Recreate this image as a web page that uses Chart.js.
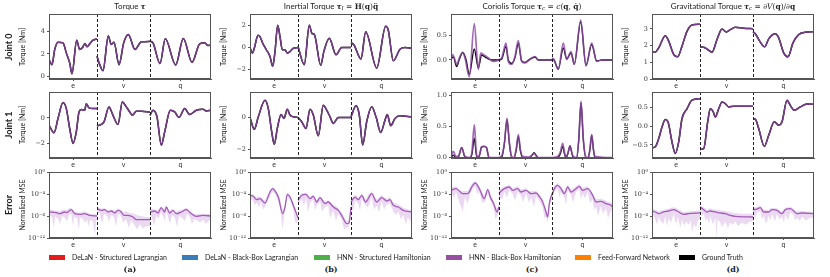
<!DOCTYPE html>
<html><head><meta charset="utf-8">
<script src="https://cdn.jsdelivr.net/npm/chart.js@4/dist/chart.umd.min.js"></script>
<style>
body{margin:0;background:#fff}
#fig{position:relative;width:830px;height:277px;overflow:hidden;background:#fff;font-family:Lato,"DejaVu Sans",sans-serif;color:#222}
.box{position:absolute}
.title{position:absolute;top:1px;font-size:8px;line-height:10px;white-space:nowrap;transform:translateX(-50%)}
.m{font-family:"DejaVu Serif","Liberation Serif",serif;font-size:7.5px}
.m sub{font-size:5.5px;vertical-align:-1px;line-height:0}
.vlab{position:absolute;white-space:nowrap;transform:translate(-50%,-50%) rotate(-90deg);font-size:7px;line-height:8px}
.rlab{position:absolute;white-space:nowrap;transform:translate(-50%,-50%) rotate(-90deg);font-size:9px;font-weight:bold;line-height:10px}
.cap{position:absolute;top:264px;transform:translateX(-50%);font-family:"DejaVu Serif",serif;font-weight:bold;font-size:8px;line-height:10px}
.lsw{position:absolute;top:255px;width:16px;height:5px}
.ltx{position:absolute;top:253px;font-size:7px;line-height:9px;white-space:nowrap}
</style></head>
<body><div id="fig"></div>
<script>
// ---------- labels ----------
const SEG_NAMES = ['e','v','q'];
const SEG_BOUNDS = [0,48,101,162];
const ROW_LABELS = ['Joint 0','Joint 1','Error'];
const Y_LABELS = ['Torque [Nm]','Torque [Nm]','Normalized MSE'];
const COL_TITLES = [
 'Torque <span class="m"><b><i>τ</i></b></span>',
 'Inertial Torque <span class="m"><b><i>τ</i></b><sub><i>I</i></sub> = <b>H</b>(<b>q</b>)<b>q̈</b></span>',
 'Coriolis Torque <span class="m"><b><i>τ</i></b><sub><i>c</i></sub> = <i>c</i>(<b>q</b>, <b>q̇</b>)</span>',
 'Gravitational Torque <span class="m"><b><i>τ</i></b><sub><i>c</i></sub> = ∂<i>V</i>(<b>q</b>)/∂<b>q</b></span>'
];
const CAPTIONS = ['(a)','(b)','(c)','(d)'];
const SERIES = ['DeLaN - Structured Lagrangian','DeLaN - Black-Box Lagrangian','HNN - Structured Hamiltonian','HNN - Black-Box Hamiltonian','Feed-Forward Network','Ground Truth'];
const SERIES_COLORS = ['#e41a1c','#377eb8','#4daf4a','#984ea3','#ff7f00','#000000'];

// ---------- y ticks ----------
const YT_TAU0 = [0,2,4], YL_TAU0 = ['0','2','4'];
const YT_TAUI0 = [-2,0,2], YL_TAUI0 = ['−2','0','2'];
const YT_TAUC0 = [0,0.5], YL_TAUC0 = ['0.0','0.5'];
const YT_TAUG0 = [0,1,2,3], YL_TAUG0 = ['0','1','2','3'];
const YT_TAU1 = [-2,0], YL_TAU1 = ['−2','0'];
const YT_TAUI1 = [-2,0], YL_TAUI1 = ['−2','0'];
const YT_TAUC1 = [0,0.5,1], YL_TAUC1 = ['0.0','0.5','1.0'];
const YT_TAUG1 = [-0.5,0,0.5], YL_TAUG1 = ['−0.5','0.0','0.5'];
const YT_ERR = [1e-12,1e-8,1e-4,1], YL_ERR = ['10⁻¹²','10⁻⁸','10⁻⁴','10⁰'];

// ---------- Joint 0 ----------
const TAU_J0 = [
 [[0,1.5],[3,1.06],[5.7,2.38],[9,3.03],[14,2.97],[17.3,2.09],[20.7,1.21],[23,0.26],[27.7,3.2],[30.7,2.38],[33.3,2.53],[36,2.91],[38,2.62],[40.7,2.88],[44,3.2],[48,3.32]],
 [[48,1.79],[50.7,1.06],[54,0.53],[59.3,3.56],[62.3,2.82],[65,3.03],[70,1.06],[74.7,2.97],[79.3,3.7],[86,2.38],[92.3,3.06],[101,3.1]],
 [[101,3.12],[104,2.97],[111,1.15],[116.3,3.32],[126.7,1.03],[134.3,3.35],[143,1.26],[150.7,2.88],[155.7,2.97],[159,2.74],[162,2.76]]
];
const TAUI_J0 = [
 [[0,0],[2.3,-0.5],[4.3,-0.06],[8,1.13],[10,1.0],[12.7,0.4],[16,-0.15],[20,-0.8],[22.7,-1.7],[25,-0.36],[27.7,2.03],[30,1.0],[32.3,-0.2],[35,-0.2],[37.3,-0.5],[40,-0.36],[43.3,-0.06],[48,0]],
 [[48,0.1],[54.3,-1.55],[59.3,2.03],[62,1.28],[64.3,1.2],[70.7,-1.6],[74,-0.3],[79.3,0.84],[86,-0.65],[91.7,0],[101,0]],
 [[101,0.45],[104,0.24],[111,-1.04],[115.7,1.43],[126.7,-1.85],[135.7,1.94],[138.3,1.58],[143.3,-1.2],[150,-0.15],[155,0],[162,-0.05]]
];
const TAUC_J0 = [
 [[0,0.04],[1.7,0.11],[3.3,0.04],[5.7,-0.09],[8.3,0.04],[11.7,0.15],[14,0.04],[18.3,-0.34],[23.3,0.73],[27.3,-0.19],[29.7,0.14],[33,0.1],[37.3,0.04],[42.3,-0.03],[48,0]],
 [[48,0.01],[50.7,0.04],[55,0.34],[57.3,-0.03],[60.7,-0.09],[64,0.07],[67.3,0.39],[70.7,-0.03],[74,-0.06],[79,0.01],[84,0.07],[87.3,0],[101,0]],
 [[101,0.04],[103,0.01],[107.3,-0.19],[112.3,0.34],[115.7,0.01],[120,0.17],[123.3,-0.09],[129.7,0.8],[135,-0.12],[140.7,0.34],[145.7,-0.03],[150.7,0],[162,0]]
];
const TAUC_J0_TRUE = [
 [[0,0.02],[2.3,0.06],[5.7,-0.13],[8.3,0.01],[11.7,0.15],[15,0.01],[18.3,-0.29],[23.3,0.22],[27.3,-0.16],[30.7,0.1],[35.7,0.04],[40.7,0],[48,0]],
 [[48,0],[50.7,0.02],[55,0.27],[57.3,0],[60.7,-0.07],[64,0.05],[67.3,0.33],[70.7,-0.02],[74,-0.05],[79,0.02],[84,0.06],[87.3,0],[101,0]],
 [[101,0.02],[103,0],[107.3,-0.18],[112.3,0.24],[115.7,0.02],[120,0.14],[123.3,-0.08],[129.7,0.76],[135,-0.11],[140.7,0.31],[145.7,-0.02],[150.7,0],[162,0]]
];
const TAUG_J0 = [
 [[0,1.67],[3.3,1.61],[6.7,1.87],[13.3,2.6],[16.7,2.27],[21.7,1.47],[25.7,1.33],[30,1.97],[35,2.86],[40,3.24],[48,3.28]],
 [[48,1.93],[51.7,1.91],[55.7,1.77],[60,1.61],[65,2.37],[70,3.0],[74.3,2.82],[78.3,2.96],[83.3,3.1],[91.7,3.04],[101,3.02]],
 [[101,2.82],[103.3,2.72],[107.7,2.27],[112.7,1.93],[116.7,2.41],[123.3,2.72],[126.7,2.47],[131.7,1.57],[136,1.33],[141,2.17],[146.7,2.66],[153.3,2.8],[162,2.84]]
];
// ---------- Joint 1 ----------
const TAU_J1 = [
 [[0,-0.56],[5,-1.15],[9,-0.05],[14,1.18],[17.3,0.72],[20.7,-0.82],[24,-1.97],[27.3,-1.08],[30,0.46],[32.3,0.64],[35.7,0.59],[37.3,1.1],[40,0.77],[44,0.72],[48,0.72]],
 [[48,-0.62],[52.3,-0.51],[55,-0.31],[60,0.85],[63.3,0.33],[69,-0.51],[73.3,1.23],[77.3,0.85],[80.7,0.46],[83.3,0.2],[87.3,0.51],[92.3,0.51],[101,0.46]],
 [[101,0.2],[104,0.59],[108,0.08],[112.3,-2.1],[115.7,-1.08],[121.3,0.59],[125.7,0.46],[130,0.03],[135.7,0.72],[140.7,0.26],[147.3,0.59],[154,0.67],[157.3,0.54],[162,0.59]]
];
const TAUI_J1 = [
 [[0,0],[4.3,-0.75],[8.3,0.04],[15,1.08],[18.3,0.56],[21.7,-0.9],[24.3,-1.69],[27.3,-0.69],[31,0.19],[34,-0.06],[37.3,0.52],[40,0.15],[43.3,0.04],[48,0]],
 [[48,0],[51.7,-0.27],[56,-0.69],[60,0.52],[63.3,0.15],[68.3,-1.15],[73.3,0.77],[76.7,0.46],[80,0.04],[83.3,-0.38],[88.3,0],[101,0]],
 [[101,0.04],[106,0.73],[109.3,0.15],[112.7,-1.73],[116.7,-0.27],[121.7,0.67],[126,0.04],[130.7,-0.94],[135,-0.17],[137.3,0.19],[140.7,-0.52],[145,-0.06],[150,0.1],[162,0.04]]
];
const TAUC_J1 = [
 [[0,0.02],[2.3,0.1],[5,0.02],[7.3,0.02],[10.7,0.16],[14,0.02],[19,0],[21,0.1],[23.3,0.53],[25.3,0.08],[27,0],[28.7,0.05],[30.5,0.17],[33,0.18],[35.5,0.16],[38,0],[48,0]],
 [[48,0],[51,0.04],[53.5,0.25],[56,0.63],[58.3,0.25],[60.7,0.02],[63,0],[65.3,0.15],[67.3,0.37],[69.5,0.12],[71.7,0.02],[78,0.01],[81,0.04],[83,0.07],[85,0.03],[87.3,0],[101,0]],
 [[101,0],[107.3,0.03],[109.5,0.1],[111.7,0.23],[113.5,0.08],[115,0.02],[117,0.08],[119,0.19],[121,0.07],[122.3,0.02],[125.7,0],[127.8,0.3],[130,0.9],[132.3,0.3],[134.7,0.02],[137.3,0],[139,0.15],[140.7,0.37],[142.5,0.13],[144,0.02],[162,0]]
];
const TAUC_J1_TRUE = [
 [[0,0],[2.3,0.04],[5,0],[7.3,0.01],[10.7,0.16],[14,0.01],[19,0],[21,0.06],[23.3,0.31],[25.3,0.05],[27,0],[28.7,0.05],[30.5,0.17],[33,0.18],[35.5,0.16],[38,0],[48,0]],
 [[48,0],[51,0.02],[53.5,0.24],[56,0.61],[58.3,0.24],[60.7,0],[63,0],[65.3,0.13],[67.3,0.34],[69.5,0.1],[71.7,0],[78,0],[81,0.04],[83,0.08],[85,0.04],[87.3,0],[101,0]],
 [[101,0],[107.3,0.01],[109.5,0.07],[111.7,0.18],[113.5,0.06],[115,0],[117,0.07],[119,0.19],[121,0.06],[122.3,0],[125.7,0],[127.8,0.29],[130,0.88],[132.3,0.29],[134.7,0],[137.3,0],[139,0.14],[140.7,0.36],[142.5,0.12],[144,0],[162,0]]
];
const TAUG_J1 = [
 [[0,-0.58],[3.3,-0.55],[6.7,-0.33],[10,-0.02],[13.3,0.18],[16,0.12],[20,-0.42],[23.3,-0.73],[26.7,-0.42],[30,0.21],[35,0.47],[40,0.7],[48,0.74]],
 [[48,-0.62],[51.7,-0.6],[55.7,0.12],[58.3,0.47],[61,0.4],[63.3,0.25],[66.7,0.47],[70,0.65],[73.3,0.61],[76.7,0.52],[81.7,0.54],[101,0.54]],
 [[101,0.2],[103.3,0.19],[106.7,-0.06],[112.3,-0.54],[116.7,-0.24],[122.3,0.12],[126.7,0.03],[130,0.12],[135,0.7],[138.3,0.56],[142.3,0.43],[148.3,0.52],[155,0.6],[162,0.59]]
];
// ---------- Error (log10 of normalized MSE) ----------
const ERR_TAU = [
 [[0,-7.27],[7.3,-7.39],[10.7,-7.58],[15.7,-7.27],[17.3,-7.39],[22.3,-6.85],[25.7,-7.58],[30.7,-7.7],[35.7,-7.58],[40.7,-7.88],[48,-8.0]],
 [[48,-6.67],[52.3,-6.97],[55.7,-6.85],[59,-7.27],[62.3,-7.09],[65.7,-7.45],[69,-6.97],[72.3,-7.27],[74.7,-7.88],[79,-7.88],[84,-8.18],[87.3,-8.67],[101,-8.67]],
 [[101,-7.27],[105.7,-7.09],[109,-7.45],[112.3,-6.48],[115.7,-7.27],[117.3,-6.36],[120.7,-7.45],[124,-6.97],[127.3,-7.58],[132.3,-7.27],[137.3,-6.85],[142.3,-7.58],[147.3,-8.06],[154,-7.88],[162,-8.0]]
];
const BAND_TAU = [
 [[0,-7.8,-6.9],[3,-8.2,-6.8],[5,-10.2,-7.0],[6,-8.0,-7.0],[9,-8.5,-7.1],[11,-9.5,-7.2],[13,-8.0,-6.9],[16,-8.3,-6.8],[18,-9.0,-6.9],[20,-7.8,-6.6],[22,-7.5,-6.5],[24,-9.8,-7.0],[25,-8.2,-7.2],[28,-8.4,-7.3],[30,-10.5,-7.3],[31,-8.3,-7.4],[34,-8.5,-7.2],[36,-9.2,-7.2],[38,-8.6,-7.4],[40,-10.0,-7.5],[41,-8.7,-7.6],[44,-9.0,-7.6],[46,-11.5,-7.7],[47,-9,-7.7],[48,-8.8,-7.6]],
 [[48,-7.2,-6.3],[51,-7.6,-6.6],[53,-9.5,-6.7],[55,-7.6,-6.5],[58,-8.0,-6.9],[60,-9.0,-6.9],[62,-7.8,-6.8],[65,-8.2,-7.0],[67,-9.8,-6.8],[69,-7.6,-6.6],[72,-8.0,-6.9],[74,-9.2,-7.3],[77,-8.6,-7.2],[80,-10.2,-7.4],[82,-8.8,-7.5],[85,-9.5,-7.6],[88,-10.4,-7.8],[91,-9.5,-8.0],[94,-10.3,-8.1],[97,-9.8,-8.2],[101,-9.8,-8.2]],
 [[101,-7.8,-6.8],[103,-8.3,-6.7],[105,-9.8,-6.8],[107,-8.0,-6.9],[110,-8.4,-6.8],[112,-7.2,-6.2],[114,-8.0,-6.8],[116,-9.0,-6.7],[117,-7.0,-6.1],[119,-8.2,-6.9],[121,-9.4,-7.0],[123,-7.8,-6.7],[126,-8.3,-7.2],[128,-10.0,-7.2],[130,-8.0,-7.0],[133,-8.3,-6.9],[136,-8.9,-6.6],[138,-7.6,-6.5],[141,-8.2,-7.2],[143,-9.6,-7.3],[145,-8.5,-7.6],[148,-8.8,-7.7],[151,-9.2,-7.6],[154,-8.7,-7.6],[157,-9.4,-7.7],[160,-8.8,-7.7],[162,-8.7,-7.7]]
];
const ERR_TAUI = [
 [[0,-4.24],[3.3,-4.42],[6.7,-5.03],[10,-4.85],[15,-5.64],[20,-3.64],[22.7,-3.03],[25,-3.45],[28.3,-4.55],[32.7,-7.58],[35,-6.36],[37.3,-4.06],[40,-4.55],[43.3,-6.06],[48,-8.3]],
 [[48,-5.15],[51.7,-4.24],[56,-4.06],[60,-4.85],[63.3,-4.42],[66.7,-5.45],[70,-4.67],[75,-5.76],[78.3,-5.45],[83.3,-6.36],[88.3,-6.97],[91.7,-7.88],[96.7,-9.39],[99,-9.27],[101,-6.36]],
 [[101,-5.45],[105,-4.55],[108.3,-5.03],[111.7,-4.24],[115.7,-5.45],[121.7,-3.94],[126.7,-5.45],[131.7,-4.67],[136.7,-5.27],[140,-5.03],[143.3,-6.06],[148.3,-6.36],[153.3,-6.97],[162,-7.27]]
];
const BAND_TAUI = [
 [[0,-4.8,-3.9],[3,-5.2,-4.0],[5,-6.0,-4.5],[7,-5.6,-4.6],[9,-6.5,-4.4],[11,-5.4,-4.5],[13,-6.8,-5.0],[15,-6.3,-5.2],[17,-5.2,-4.4],[20,-4.3,-3.3],[22.7,-3.6,-2.7],[25,-4.0,-3.1],[28,-5.3,-4.1],[30,-6.3,-4.8],[32.7,-10.5,-7.0],[34,-8.0,-6.5],[35,-7.0,-5.8],[37.3,-4.6,-3.7],[40,-5.1,-4.2],[43,-6.7,-5.6],[45,-9.0,-6.6],[46.7,-9.3,-8.0],[48,-8.9,-7.8]],
 [[48,-5.8,-4.7],[51.7,-4.9,-3.9],[54,-6.2,-3.8],[56,-4.7,-3.7],[58,-7.3,-4.3],[60,-5.6,-4.5],[63.3,-5.0,-4.1],[65,-7.0,-4.7],[66.7,-6.1,-5.1],[70,-5.3,-4.3],[72,-7.2,-4.8],[75,-6.4,-5.4],[78.3,-6.1,-5.1],[80,-8.3,-5.4],[83.3,-7.0,-6.0],[86,-8.8,-6.2],[88.3,-7.6,-6.6],[91.7,-8.6,-7.4],[94,-10.4,-8.2],[96.7,-10.1,-8.9],[99,-10.0,-8.7],[101,-7.0,-5.9]],
 [[101,-6.1,-5.0],[103,-7.2,-4.6],[105,-5.2,-4.1],[108.3,-5.7,-4.6],[110,-7.0,-4.5],[111.7,-4.9,-3.8],[115.7,-6.1,-5.0],[118,-6.5,-4.2],[121.7,-4.6,-3.5],[124,-6.8,-4.4],[126.7,-6.1,-5.0],[129,-7.4,-4.6],[131.7,-5.3,-4.2],[134,-6.8,-4.6],[136.7,-5.9,-4.8],[140,-5.7,-4.6],[143.3,-7.2,-5.6],[146,-7.8,-5.7],[148.3,-7.2,-5.9],[151,-8.6,-6.2],[153.3,-7.8,-6.5],[156,-9.6,-6.7],[158,-8.2,-6.8],[160,-9.0,-6.8],[162,-8.0,-6.9]]
];
const ERR_TAUC = [
 [[0,-3.33],[5,-3.03],[11.7,-3.94],[16.7,-3.94],[21.7,-2.42],[24.3,-2.0],[28.3,-3.03],[33.3,-4.85],[36.7,-3.21],[39.3,-4.55],[42.7,-5.76],[46,-7.27],[48,-6.36]],
 [[48,-3.82],[53.3,-3.03],[58.3,-2.73],[61.7,-3.33],[66.7,-3.03],[70,-3.64],[75,-3.33],[80,-3.94],[85,-3.82],[88.3,-4.42],[91.7,-5.45],[95,-7.27],[96.7,-8.18],[98.3,-5.76],[101,-3.94]],
 [[101,-4.24],[103.3,-3.03],[106.7,-2.42],[110,-3.03],[113.3,-3.94],[116.7,-2.73],[120,-3.64],[125,-3.03],[128.3,-2.61],[131.7,-3.33],[136.7,-3.03],[141.7,-4.24],[145,-5.45],[150,-5.33],[155,-5.76],[160,-6.06],[162,-6.48]]
];
const BAND_TAUC = [
 [[0,-3.9,-2.9],[3,-4.6,-2.7],[5,-3.6,-2.6],[8,-5.3,-3.2],[11.7,-7.2,-3.5],[14,-4.6,-3.4],[16.7,-5.8,-3.5],[19,-4.0,-2.6],[21.7,-3.0,-2.0],[24.3,-2.6,-1.6],[26,-4.0,-2.2],[28.3,-3.6,-2.6],[31,-5.5,-3.6],[33.3,-5.6,-4.3],[36.7,-3.8,-2.8],[39.3,-5.2,-4.1],[42.7,-6.6,-5.2],[44.5,-8.6,-6.2],[46,-8.0,-6.7],[48,-7.0,-5.8]],
 [[48,-4.4,-3.4],[51,-5.0,-2.9],[53.3,-3.6,-2.6],[56,-4.6,-2.5],[58.3,-3.3,-2.3],[61.7,-4.0,-2.9],[64,-5.2,-2.8],[66.7,-3.6,-2.6],[70,-4.3,-3.2],[72,-5.5,-3.1],[75,-3.9,-2.9],[78,-5.6,-3.4],[80,-4.6,-3.5],[83,-6.3,-3.4],[85,-4.4,-3.4],[88.3,-5.2,-4.0],[91.7,-6.4,-5.0],[93.5,-8.5,-6.0],[95,-8.1,-6.8],[96.7,-9.2,-7.6],[98.3,-6.6,-5.2],[101,-4.5,-3.5]],
 [[101,-4.8,-3.7],[103.3,-3.6,-2.6],[106.7,-3.0,-2.0],[108.5,-4.6,-2.4],[110,-3.6,-2.6],[113.3,-4.6,-3.4],[115,-6.0,-3.2],[116.7,-3.3,-2.3],[120,-4.2,-3.2],[122,-5.6,-3.0],[125,-3.6,-2.6],[128.3,-3.2,-2.2],[130,-5.0,-2.6],[131.7,-3.9,-2.9],[134,-4.8,-2.7],[136.7,-3.6,-2.6],[139,-5.6,-3.5],[141.7,-5.0,-3.8],[143,-6.8,-4.4],[145,-6.3,-4.9],[147,-8.0,-4.9],[150,-6.2,-4.8],[152,-7.6,-5.0],[155,-6.6,-5.2],[157,-8.3,-5.5],[160,-7.0,-5.5],[162,-7.2,-6.0]]
];
const ERR_TAUG = [
 [[0,-7.09],[3.3,-7.27],[6.7,-7.58],[11.7,-7.27],[16.7,-7.09],[21.7,-6.85],[25,-7.09],[28.3,-7.45],[31.7,-7.7],[36.7,-7.58],[48,-7.45]],
 [[48,-6.36],[51.7,-6.85],[55,-7.27],[58.3,-7.09],[63.3,-7.27],[68.3,-7.45],[73.3,-7.58],[78.3,-7.88],[83.3,-8.06],[101,-8.18]],
 [[101,-6.85],[105,-6.73],[108.3,-6.48],[111.7,-7.27],[116.7,-7.27],[120,-6.85],[125,-6.97],[130,-7.58],[133.3,-6.85],[138.3,-6.67],[141.7,-7.09],[145,-7.58],[150,-7.45],[162,-7.58]]
];
const BAND_TAUG = [
 [[0,-7.6,-6.7],[3,-8.4,-6.8],[5,-9.6,-7.0],[6.7,-8.2,-7.2],[9,-9.0,-7.0],[11.7,-9.4,-6.9],[13,-8.0,-6.8],[15,-9.8,-6.7],[16.7,-8.4,-6.7],[19,-9.2,-6.5],[21.7,-7.6,-6.4],[24,-9.5,-6.6],[26,-8.2,-6.7],[28.3,-10.2,-7.0],[30,-8.6,-7.2],[32,-9.8,-7.3],[34,-9.0,-7.2],[36.7,-9.6,-7.2],[39,-8.8,-7.1],[40,-11.0,-7.1],[42,-9.4,-7.1],[44,-10.2,-7.1],[46,-8.8,-7.0],[48,-8.4,-7.0]],
 [[48,-7.0,-6.0],[50,-8.0,-6.2],[51.7,-7.6,-6.4],[54,-9.0,-6.7],[55,-8.2,-6.8],[57,-9.4,-6.7],[58.3,-8.0,-6.6],[61,-9.6,-6.8],[63.3,-8.3,-6.8],[64.5,-12,-6.9],[65.5,-8.6,-6.9],[68.3,-9.2,-7.0],[70,-10.0,-7.0],[73.3,-9.0,-7.1],[76,-10.2,-7.2],[78.3,-9.2,-7.3],[81,-9.6,-7.4],[83.3,-9.0,-7.5],[86,-9.8,-7.5],[90,-9.2,-7.6],[94,-9.6,-7.6],[97,-9.1,-7.6],[101,-8.9,-7.6]],
 [[101,-7.5,-6.5],[103,-8.4,-6.4],[105,-7.4,-6.3],[108.3,-7.2,-6.1],[110,-8.6,-6.4],[111.7,-8.0,-6.9],[114,-9.4,-6.9],[116.7,-8.0,-6.9],[118.5,-8.8,-6.6],[120,-7.6,-6.5],[123,-9.0,-6.6],[125,-7.6,-6.6],[127.5,-8.6,-7.0],[130,-8.2,-7.2],[132,-9.2,-6.8],[133.3,-7.6,-6.5],[136,-8.8,-6.4],[138.3,-7.3,-6.3],[141.7,-7.8,-6.7],[143,-8.8,-7.0],[145,-8.3,-7.2],[148,-8.9,-7.1],[150,-8.1,-7.1],[154,-8.8,-7.2],[158,-8.3,-7.2],[162,-8.3,-7.2]]
];

// ---------- layout ----------
const COL_X = [49,250,451,652], ROW_Y = [14,92,172], ROW_H = [65,66,66];
const PW = 162, YW = 34, PT = 6, PR = 3, XH = 13;
const fig = document.getElementById('fig');

const PANELS = [
 {r:0,c:0,pred:TAU_J0,truth:TAU_J0,min:-0.2,max:5.5,yt:YT_TAU0,yl:YL_TAU0},
 {r:0,c:1,pred:TAUI_J0,truth:TAUI_J0,min:-2.85,max:3.05,yt:YT_TAUI0,yl:YL_TAUI0},
 {r:0,c:2,pred:TAUC_J0,truth:TAUC_J0_TRUE,min:-0.38,max:0.92,yt:YT_TAUC0,yl:YL_TAUC0,coriolis:true},
 {r:0,c:3,pred:TAUG_J0,truth:TAUG_J0,min:0,max:3.9,yt:YT_TAUG0,yl:YL_TAUG0},
 {r:1,c:0,pred:TAU_J1,truth:TAU_J1,min:-3.1,max:2.0,yt:YT_TAU1,yl:YL_TAU1},
 {r:1,c:1,pred:TAUI_J1,truth:TAUI_J1,min:-2.55,max:1.6,yt:YT_TAUI1,yl:YL_TAUI1},
 {r:1,c:2,pred:TAUC_J1,truth:TAUC_J1_TRUE,min:-0.005,max:1.05,yt:YT_TAUC1,yl:YL_TAUC1,coriolis:true},
 {r:1,c:3,pred:TAUG_J1,truth:TAUG_J1,min:-0.85,max:0.92,yt:YT_TAUG1,yl:YL_TAUG1},
 {r:2,c:0,err:ERR_TAU,band:BAND_TAU,log:true,min:1e-12,max:1,yt:YT_ERR,yl:YL_ERR},
 {r:2,c:1,err:ERR_TAUI,band:BAND_TAUI,log:true,min:1e-12,max:1,yt:YT_ERR,yl:YL_ERR},
 {r:2,c:2,err:ERR_TAUC,band:BAND_TAUC,log:true,min:1e-12,max:1,yt:YT_ERR,yl:YL_ERR},
 {r:2,c:3,err:ERR_TAUG,band:BAND_TAUG,log:true,min:1e-12,max:1,yt:YT_ERR,yl:YL_ERR}
];

const SEG_CENTERS = SEG_NAMES.map((n,i)=>(SEG_BOUNDS[i]+SEG_BOUNDS[i+1])/2);
const AX = '#555';

const framePlugin = {
 id:'frame',
 afterDatasetsDraw(chart){
  const {ctx, chartArea:a, scales:{x}} = chart;
  ctx.save();
  ctx.strokeStyle = '#222'; ctx.lineWidth = 1; ctx.setLineDash([3,2]);
  [SEG_BOUNDS[1],SEG_BOUNDS[2]].forEach(v=>{
    const px = Math.round(x.getPixelForValue(v))+0.5;
    ctx.beginPath(); ctx.moveTo(px,a.top); ctx.lineTo(px,a.bottom); ctx.stroke();
  });
  ctx.setLineDash([]);
  ctx.strokeStyle = AX;
  ctx.strokeRect(a.left+0.5,a.top+0.5,a.right-a.left-1,a.bottom-a.top-1);
  ctx.restore();
 }
};

function pts(seg){ return seg.map(([x,y])=>({x,y})); }
function logPts(seg,k){ return seg.map(p=>({x:p[0],y:Math.pow(10,p[k])})); }

function build(p){
  const L = COL_X[p.c], T = ROW_Y[p.r], H = ROW_H[p.r];
  const W = PW+YW+PR, HH = H+PT+XH;
  const wrap = document.createElement('div');
  wrap.className='box';
  Object.assign(wrap.style,{left:(L-YW)+'px',top:(T-PT)+'px',width:W+'px',height:HH+'px'});
  const cv = document.createElement('canvas');
  cv.width=W; cv.height=HH; cv.style.width=W+'px'; cv.style.height=HH+'px';
  wrap.appendChild(cv); fig.appendChild(wrap);
  const ds = [];
  const lineBase = {pointRadius:0,fill:false,cubicInterpolationMode:'monotone'};
  if(!p.log){
    const predDs = p.pred.map(s=>Object.assign({data:pts(s),borderColor:p.coriolis?'rgba(142,72,165,0.82)':'#773d8a',borderWidth:p.coriolis?1.7:1.5},lineBase));
    const truthDs = p.truth.map(s=>Object.assign({data:pts(s),borderColor:'#000',borderWidth:p.coriolis?1.3:1.5},lineBase));
    ds.push(...predDs, ...truthDs);
  } else {
    p.err.forEach(s=>ds.push(Object.assign({data:logPts(s,1),borderColor:'#a45cba',borderWidth:1.3},lineBase)));
    p.band.forEach(s=>{
      const lo = ds.length;
      ds.push({data:logPts(s,1),borderWidth:0,pointRadius:0,fill:false,tension:0});
      ds.push({data:logPts(s,2),borderWidth:0,pointRadius:0,tension:0,fill:lo,backgroundColor:'rgba(190,140,212,0.33)'});
    });
  }
  new Chart(cv,{
    type:'line',
    data:{datasets:ds},
    options:{
      responsive:false, animation:false, devicePixelRatio:1,
      layout:{padding:{left:0,top:PT,right:PR,bottom:0}},
      plugins:{legend:{display:false},tooltip:{enabled:false}},
      scales:{
        x:{type:'linear',min:0,max:162,bounds:'data',
           afterFit:s=>{s.height=XH;},
           afterBuildTicks:s=>{s.ticks=SEG_CENTERS.map(v=>({value:v}));},
           ticks:{autoSkip:false,maxRotation:0,padding:1,color:'#333',font:{family:'Lato, "DejaVu Sans", sans-serif',size:7},callback:(v,i)=>SEG_NAMES[i]},
           grid:{drawOnChartArea:false,drawTicks:true,tickLength:2,color:AX},
           border:{display:true,color:AX}},
        y:{type:p.log?'logarithmic':'linear',min:p.min,max:p.max,bounds:'data',
           afterFit:s=>{s.width=YW;},
           afterBuildTicks:s=>{s.ticks=p.yt.map(v=>({value:v}));},
           ticks:{autoSkip:false,padding:2,color:'#333',font:{family:'"DejaVu Serif", "Liberation Serif", serif',size:6.5},callback:(v,i)=>p.yl[i]},
           grid:{drawOnChartArea:false,drawTicks:true,tickLength:2,color:AX},
           border:{display:true,color:AX}}
      }
    },
    plugins:[framePlugin]
  });
}
PANELS.forEach(build);

// ---------- text ----------
function add(cls,html,style){const d=document.createElement('div');d.className=cls;d.innerHTML=html;Object.assign(d.style,style);fig.appendChild(d);return d;}
COL_X.forEach((L,c)=>{
  add('title',COL_TITLES[c],{left:(L+PW/2)+'px'});
  add('cap',CAPTIONS[c],{left:(L+PW/2)+'px'});
  ROW_Y.forEach((T,r)=>add('vlab',Y_LABELS[r],{left:(L-27)+'px',top:(T+ROW_H[r]/2)+'px'}));
});
ROW_Y.forEach((T,r)=>add('rlab',ROW_LABELS[r],{left:'9px',top:(T+ROW_H[r]/2)+'px'}));
const LEG_X = [49,182,314,446,575,679];
SERIES.forEach((s,i)=>{
  add('lsw','',{left:LEG_X[i]+'px',background:SERIES_COLORS[i]});
  add('ltx',s,{left:(LEG_X[i]+23)+'px'});
});
</script></body></html>
